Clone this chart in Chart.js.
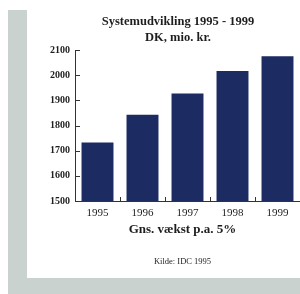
<!DOCTYPE html>
<html><head><meta charset="utf-8">
<script src="https://cdn.jsdelivr.net/npm/chart.js@4/dist/chart.umd.min.js"></script>
<style>html,body{margin:0;padding:0;background:#fff}#w{width:300px;height:294px}</style>
</head><body><div id="w"><canvas id="c" width="300" height="294"></canvas></div>
<script>
const categories = ['1995','1996','1997','1998','1999'];
const values = [1732, 1843, 1927, 2017, 2075];
const yTicks = [1500, 1600, 1700, 1800, 1900, 2000, 2100];
const titleLines = ['Systemudvikling 1995 - 1999', 'DK, mio. kr.'];
const growthText = 'Gns. vækst p.a. 5%';
const sourceText = 'Kilde: IDC 1995';

const decor = {
  id: 'decor',
  beforeDraw(chart) {
    const ctx = chart.ctx;
    ctx.save();
    ctx.fillStyle = '#ffffff';
    ctx.fillRect(0, 0, 300, 294);
    ctx.fillStyle = '#cad2cf';
    ctx.fillRect(8, 10, 19, 284);
    ctx.fillRect(8, 278, 292, 16);
    ctx.restore();
  },
  afterDraw(chart) {
    const ctx = chart.ctx;
    const x = chart.scales.x, y = chart.scales.y;
    ctx.save();
    ctx.strokeStyle = '#333';
    ctx.lineWidth = 1;
    yTicks.forEach(v => {
      const py = Math.round(y.getPixelForValue(v)) + 0.5;
      ctx.beginPath(); ctx.moveTo(x.left, py); ctx.lineTo(x.left + 5, py); ctx.stroke();
    });
    for (let i = 1; i < categories.length; i++) {
      const px = Math.round((x.getPixelForValue(i - 1) + x.getPixelForValue(i)) / 2) + 0.5;
      ctx.beginPath(); ctx.moveTo(px, y.bottom); ctx.lineTo(px, y.bottom - 4); ctx.stroke();
    }
    ctx.fillStyle = '#1e1e1e';
    ctx.textAlign = 'center';
    ctx.textBaseline = 'middle';
    ctx.font = 'bold 12.5px "Liberation Serif"';
    ctx.fillText(titleLines[0], 178, 22);
    ctx.fillText(titleLines[1], 178, 38);
    ctx.font = 'bold 13px "Liberation Serif"';
    ctx.fillText(growthText, 182.5, 230);
    ctx.font = '8.5px "Liberation Serif"';
    ctx.fillText(sourceText, 182.5, 262);
    ctx.restore();
  }
};

new Chart(document.getElementById('c'), {
  type: 'bar',
  data: {
    labels: categories,
    datasets: [{ data: values, backgroundColor: '#1c2b62', barPercentage: 0.71, categoryPercentage: 1.0 }]
  },
  options: {
    responsive: false,
    animation: false,
    devicePixelRatio: 1,
    layout: { padding: { top: 50, left: 0, right: 0, bottom: 0 } },
    plugins: { legend: { display: false }, tooltip: { enabled: false }, title: { display: false } },
    scales: {
      x: {
        grid: { display: false, drawTicks: false },
        border: { display: true, color: '#333', width: 1 },
        ticks: { color: '#1e1e1e', font: { family: '"Liberation Serif"', size: 11 }, padding: 6, maxRotation: 0 },
        afterFit(s) { s.height = 93; }
      },
      y: {
        min: 1500, max: 2100,
        grid: { display: false, drawTicks: false },
        border: { display: true, color: '#333', width: 1 },
        afterBuildTicks(s) { s.ticks = yTicks.map(v => ({ value: v })); },
        ticks: { color: '#1e1e1e', font: { family: '"Liberation Serif"', size: 10, weight: 'bold' }, padding: 5,
                 callback: v => String(v) },
        afterFit(s) { s.width = 75; }
      }
    }
  },
  plugins: [decor]
});
</script></body></html>
